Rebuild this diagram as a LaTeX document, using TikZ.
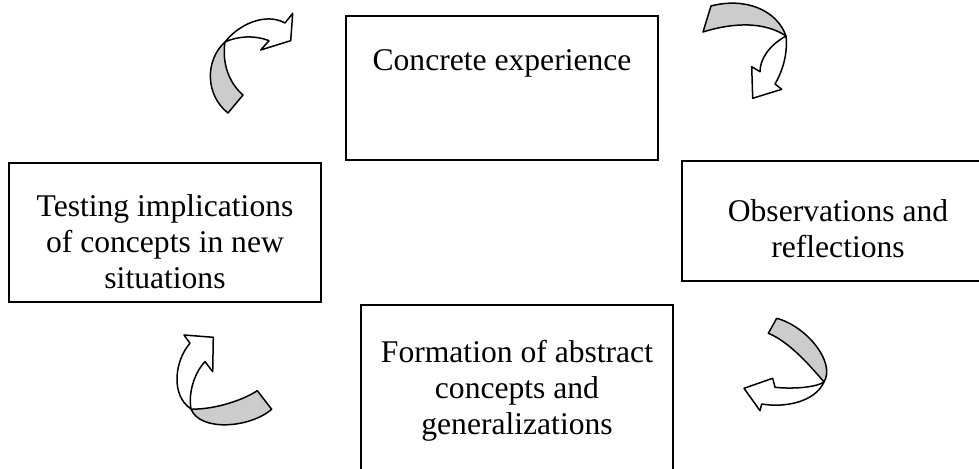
\documentclass[tikz,border=0pt]{standalone}
\usepackage{fontspec}
\setmainfont{Liberation Serif}
\usetikzlibrary{positioning}

\begin{document}
\begin{tikzpicture}[
        x=0.5pt, y=-0.5pt,
        box/.style={rectangle, draw, line width=1pt, minimum width=156pt, inner sep=0pt, anchor=north west},
        txt/.style={align=center, inner sep=0pt, font=\fontsize{15.8}{18}\selectfont},
        back/.style={draw, line width=0.75pt, fill=black!20, line join=round},
        front/.style={draw, line width=0.75pt, fill=white, line join=round}
    ]
        \useasboundingbox (0,0) rectangle (979,469);
        \clip (0,0) rectangle (979,469);

        % Boxes
        \node[box, minimum height=72pt] (concrete) at (345,15) {};
        \node[box, minimum height=60pt] (observ) at (681,160) {};
        \node[box, minimum height=69.5pt] (testing) at (8,162) {};
        \node[box, minimum height=90pt] (formation) at (360,304) {};

        % Texts
        \node[txt, below=17pt of concrete.north] (concretetxt) {Concrete experience};
        \node[txt, below=19.5pt of observ.north] (observtxt) {Observations and\\reflections};
        \node[txt, below=16pt of testing.north] (testingtxt) {Testing implications\\of concepts in new\\situations};
        \node[txt, below=18pt of formation.north] (formationtxt) {Formation of abstract\\concepts and\\generalizations};

        % Top left arrow
        \filldraw[back] (225,42) .. controls (205,60) and (205,95) .. (228,113) -- (243,95)
            .. controls (228,82) and (222,62) .. (225,42) -- cycle;
        \filldraw[front] (225,42) .. controls (238,25) and (265,12) .. (285,23)
            -- (292.7,13.3) -- (290.7,40.7) -- (260.7,50) -- (269,40.7)
            .. controls (255,35) and (238,36) .. (225,42) -- cycle;

        % Top right arrow
        \filldraw[back] (703,32) -- (711,6) .. controls (745,-3) and (777,10) .. (786,36)
            .. controls (765,22) and (735,22) .. (703,32) -- cycle;
        \filldraw[front] (786,36) .. controls (788,55) and (782,72) .. (775,84)
            -- (781.7,89.3) -- (752.7,98.3) -- (751.7,66.7) -- (760,71.7)
            .. controls (760,60) and (768,46) .. (786,36) -- cycle;

        % Bottom right arrow
        \filldraw[back] (768.3,333.3) -- (776.7,318.3) .. controls (806,326) and (836,362) .. (824,382)
            .. controls (812,368) and (790,342) .. (768.3,333.3) -- cycle;
        \filldraw[front] (824,382) .. controls (815,388) and (790,389) .. (775,387.3)
            -- (772.7,378.3) -- (744,388.3) -- (760,410.7) -- (761.7,404)
            .. controls (785,408) and (815,402) .. (824,382) -- cycle;

        % Bottom left arrow
        \filldraw[back] (257.3,390.7) -- (271.7,409.3) .. controls (250,428) and (200,432) .. (191,409)
            .. controls (210,410) and (240,402) .. (257.3,390.7) -- cycle;
        \filldraw[front] (191,409) .. controls (170,395) and (175,360) .. (190,343.3)
            -- (184,335) -- (213.3,337.3) -- (212.7,371.7) -- (205,361.7)
            .. controls (195,372) and (188,392) .. (191,409) -- cycle;
    \end{tikzpicture}
\end{document}
